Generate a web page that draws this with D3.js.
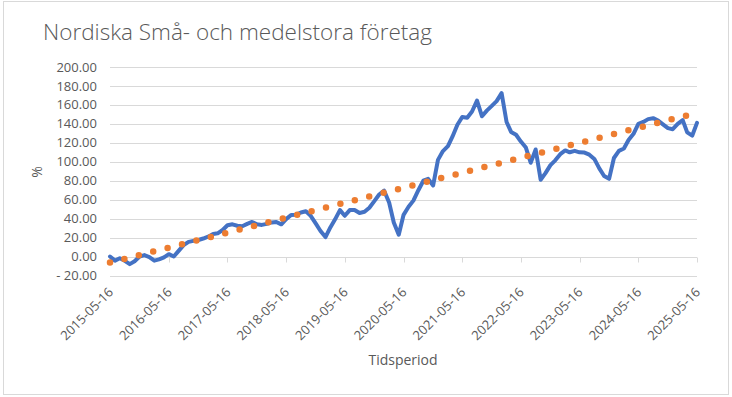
<!DOCTYPE html>
<html>
<head>
<meta charset="utf-8">
<script src="https://cdn.jsdelivr.net/npm/d3@7"></script>
<style>
  html, body { margin: 0; padding: 0; background: #fff; }
  svg { display: block; font-family: "Open Sans", sans-serif; }
</style>
</head>
<body>
<div id="chart"></div>
<script>
// monthly series, first point at startDate
const startDate = "2015-05-16";
const values = [
    0, -4.3, -1.8, -4.5, -8, -5, 0, 1.5, -0.5, -4.3, -3, -0.8,
    2.5, 0, 6, 12, 15.5, 16.5, 17.5, 19, 21, 23.9, 24.5, 28,
    33, 34, 32.5, 32, 34.5, 36.5, 34, 33.4, 34.5, 36, 36.5, 34,
    39.5, 43.9, 44, 46.5, 47.8, 43, 35, 27, 20.5, 31, 39, 49,
    43, 49, 49.2, 46, 47.2, 51.5, 58.5, 65.5, 69.5, 57, 36, 23,
    44, 52.5, 59, 70, 80, 82, 75, 102, 111.3, 116.5, 126.5, 139,
    147.3, 146.5, 153, 164.5, 148, 154, 159, 164, 172.4, 142, 131.5, 128.5,
    121.3, 115, 99, 113, 81, 88, 96.5, 101.5, 108, 112, 110, 111.5,
    110, 109.7, 107.5, 103, 93, 85, 82, 104, 111.5, 114, 123, 129.5,
    140, 142, 145, 146, 143.5, 139.5, 135.5, 134.4, 140, 144, 131, 127.5,
    141
];
// linear trend, value at first and last date
const trendValues = [-6.4, 151.6];
const yTicks = [-20, 0, 20, 40, 60, 80, 100, 120, 140, 160, 180, 200];
const xTickLabels = [
    "2015-05-16", "2016-05-16", "2017-05-16", "2018-05-16", "2019-05-16", "2020-05-16",
    "2021-05-16", "2022-05-16", "2023-05-16", "2024-05-16", "2025-05-16"
];
const title = "Nordiska Små- och medelstora företag";
const xTitle = "Tidsperiod";
const yTitle = "%";

function chart() {
    const width = 732;
    const height = 397;
    const grey = "#595959";
    const gridColor = "#d9d9d9";

    const parse = d3.timeParse("%Y-%m-%d");
    const t0 = parse(startDate);
    const series = values.map((v, i) => ({date: d3.timeMonth.offset(t0, i), value: v}));
    const tEnd = series[series.length - 1].date;

    const x = d3.scaleTime().domain([t0, tEnd]).range([110, 697]);
    const y = d3.scaleLinear().domain([-20, 200]).range([275.5, 67]);

    const svg = d3.create("svg")
        .attr("width", width)
        .attr("height", height)
        .attr("viewBox", [0, 0, width, height]);

    // chart border
    svg.append("rect")
        .attr("x", 3.5).attr("y", 1.5)
        .attr("width", 725).attr("height", 393)
        .attr("fill", "#fff")
        .attr("stroke", gridColor);

    // title
    svg.append("text")
        .attr("x", 43).attr("y", 40)
        .attr("fill", grey)
        .attr("font-size", 22.5)
        .attr("font-weight", 300)
        .text(title);

    // horizontal gridlines
    svg.append("g")
        .attr("stroke", gridColor)
        .selectAll()
        .data(yTicks)
        .join("line")
        .attr("x1", x.range()[0]).attr("x2", x.range()[1])
        .attr("y1", d => Math.round(y(d)) + 0.5)
        .attr("y2", d => Math.round(y(d)) + 0.5);

    // y tick labels
    const fmt = d3.format(".2f");
    svg.append("g")
        .attr("fill", grey)
        .attr("font-size", 13)
        .attr("text-anchor", "end")
        .selectAll()
        .data(yTicks)
        .join("text")
        .attr("x", 97)
        .attr("y", d => y(d))
        .attr("dy", "0.35em")
        .text(d => d < 0 ? "- " + fmt(-d) : fmt(d));

    // category axis sits on the zero line, labels at the bottom
    const xTicks = xTickLabels.map(parse);
    const y0 = Math.round(y(0)) + 0.5;
    svg.append("g")
        .attr("stroke", gridColor)
        .selectAll()
        .data(xTicks)
        .join("line")
        .attr("x1", d => Math.round(x(d)) + 0.5).attr("x2", d => Math.round(x(d)) + 0.5)
        .attr("y1", y0).attr("y2", y0 + 5);

    svg.append("g")
        .attr("fill", grey)
        .attr("font-size", 13)
        .attr("text-anchor", "end")
        .selectAll()
        .data(xTicks)
        .join("text")
        .attr("transform", d => `translate(${x(d) + 4},${293}) rotate(-45)`)
        .text((d, i) => xTickLabels[i]);

    // axis titles
    svg.append("text")
        .attr("x", 403).attr("y", 365)
        .attr("text-anchor", "middle")
        .attr("fill", grey)
        .attr("font-size", 14)
        .text(xTitle);

    svg.append("text")
        .attr("transform", "translate(42,172) rotate(-90)")
        .attr("text-anchor", "middle")
        .attr("fill", grey)
        .attr("font-size", 14)
        .text(yTitle);

    // data line
    const line = d3.line()
        .x(d => x(d.date))
        .y(d => y(d.value));

    svg.append("path")
        .datum(series)
        .attr("fill", "none")
        .attr("stroke", "#4472c4")
        .attr("stroke-width", 4)
        .attr("stroke-linejoin", "round")
        .attr("stroke-linecap", "round")
        .attr("d", line);

    // dotted trendline, dots every ~14.4px horizontally
    const trend = [
        {date: t0, value: trendValues[0]},
        {date: tEnd, value: trendValues[1]}
    ];
    const dx = x(tEnd) - x(t0);
    const dy = y(trendValues[1]) - y(trendValues[0]);
    const gap = 14.4 * Math.hypot(dx, dy) / dx;
    svg.append("path")
        .datum(trend)
        .attr("fill", "none")
        .attr("stroke", "#ed7d31")
        .attr("stroke-width", 6.5)
        .attr("stroke-linecap", "round")
        .attr("stroke-dasharray", `0 ${gap}`)
        .attr("d", line);

    return svg.node();
}

document.getElementById("chart").appendChild(chart());
</script>
</body>
</html>
